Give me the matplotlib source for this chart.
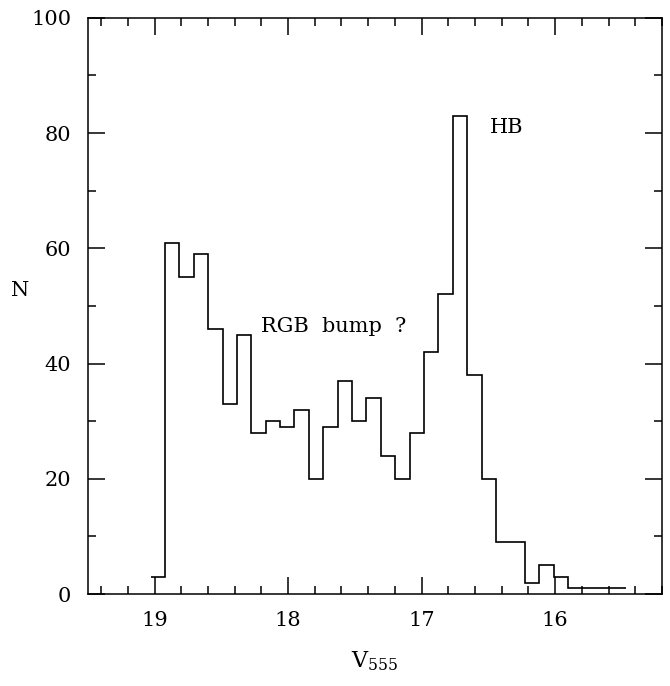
import numpy as np
import matplotlib
matplotlib.use("Agg")
import matplotlib.pyplot as plt
from matplotlib.ticker import MultipleLocator

# histogram of V555 magnitudes (bins run from faint to bright)
bin_start = 19.03
bin_width = 0.1078
counts = [3, 61, 55, 59, 46, 33, 45, 28, 30, 29, 32, 20, 29, 37, 30, 34, 24,
          20, 28, 42, 52, 83, 38, 20, 9, 9, 2, 5, 3, 1, 1, 1, 1]

edges = bin_start - bin_width * np.arange(len(counts) + 1)

plt.rcParams['font.family'] = 'DejaVu Serif'
plt.rcParams['mathtext.fontset'] = 'dejavuserif'
plt.rcParams['mathtext.default'] = 'regular'

fig = plt.figure(figsize=(6.7, 6.86), dpi=100)
ax = fig.add_axes([0.131, 0.134, 0.857, 0.840])

# stairs needs increasing edges, so flip both
ax.stairs(counts[::-1], edges[::-1], color='black', lw=1.2, baseline=None)

ax.set_xlim(19.5, 15.2)
ax.set_ylim(0, 100)

ax.xaxis.set_major_locator(MultipleLocator(1))
ax.xaxis.set_minor_locator(MultipleLocator(0.2))
ax.yaxis.set_major_locator(MultipleLocator(20))
ax.yaxis.set_minor_locator(MultipleLocator(10))
ax.tick_params(which='both', direction='in', top=True, right=True, width=1.1)
ax.tick_params(which='major', length=12, labelsize=15, pad=12)
ax.tick_params(which='minor', length=6)
for s in ax.spines.values():
    s.set_linewidth(1.1)

ax.set_xlabel(r'V$_{555}$', fontsize=16, labelpad=14)
ax.set_ylabel('N', fontsize=15, rotation=0)
ax.yaxis.set_label_coords(-0.118, 0.51)

ax.text(16.49, 81, 'HB', fontsize=15, va='center', ha='left')
ax.text(18.2, 46.5, 'RGB  bump  ?', fontsize=15, va='center', ha='left')

fig.savefig('out.png', dpi=100)
